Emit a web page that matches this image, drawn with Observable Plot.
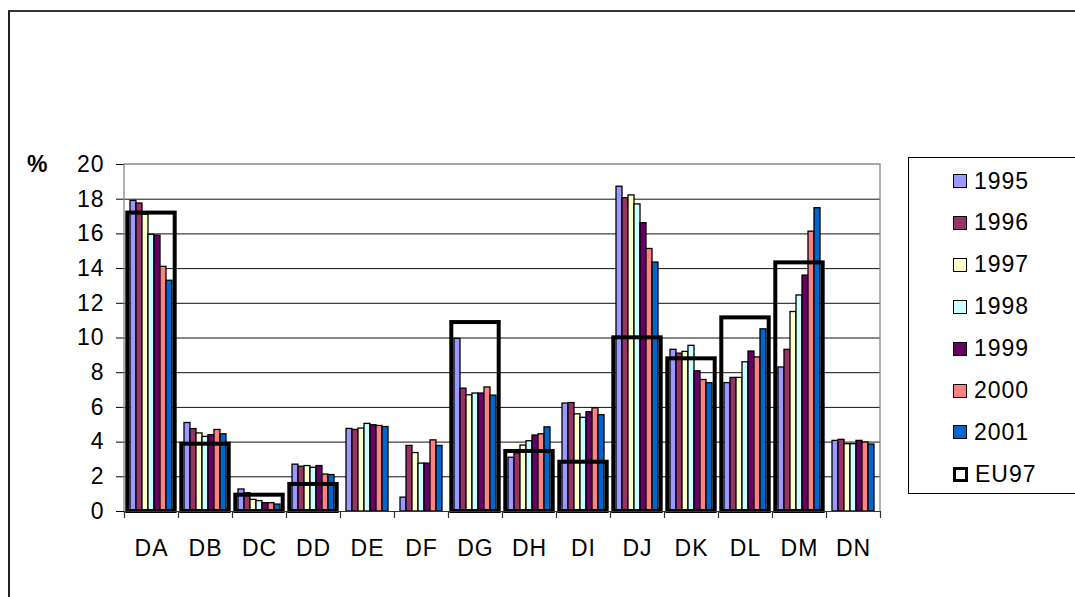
<!DOCTYPE html>
<html>
<head>
<meta charset="utf-8">
<script src="https://cdn.jsdelivr.net/npm/d3@7"></script>
<script src="https://cdn.jsdelivr.net/npm/@observablehq/plot@0.6"></script>
<style>
html,body{margin:0;padding:0;background:#fff;overflow:hidden}
body{width:1075px;height:597px;position:relative;font-family:Arial,"Liberation Sans",sans-serif}
#frame{position:absolute;left:8px;top:10px;width:1100px;height:620px;border-left:2px solid #222;border-top:2px solid #333;box-sizing:border-box}
#chart{position:absolute;left:0;top:0}
#pct{position:absolute;left:27px;top:150px;font-weight:bold;font-size:23px;line-height:28px}
#legend{position:absolute;left:908px;top:157px;width:170px;height:337px;border:1px solid #000;box-sizing:border-box;background:#fff}
.item{position:absolute;left:44px;height:24px;display:flex;align-items:center;font-size:23px;letter-spacing:1px}
.sw{width:12px;height:12px;border:1.5px solid #000;margin-right:7px;flex:none}
.sw.eu{width:9px;height:9px;border:3.5px solid #000;background:#fff}
</style>
</head>
<body>
<div id="frame"></div>
<div id="chart"></div>
<div id="pct">%</div>
<div id="legend"></div>
<script>
const cats = ["DA","DB","DC","DD","DE","DF","DG","DH","DI","DJ","DK","DL","DM","DN"];
const years = ["1995","1996","1997","1998","1999","2000","2001"];
const yearColors = ["#9999FF","#993366","#FFFFCC","#CCFFFF","#660066","#FF8080","#0066CC"];
const yTicks = [0,2,4,6,8,10,12,14,16,18,20];

const v1995 = [17.9, 5.1, 1.27, 2.70, 4.76, 0.80, 9.95, 3.10, 6.22, 18.72, 9.32, 7.40, 8.30, 4.07];
const v1996 = [17.75, 4.75, 1.05, 2.58, 4.70, 3.78, 7.08, 3.35, 6.25, 18.06, 9.10, 7.70, 9.32, 4.13];
const v1997 = [17.1, 4.50, 0.67, 2.62, 4.78, 3.37, 6.70, 3.80, 5.60, 18.22, 9.20, 7.70, 11.50, 3.88];
const v1998 = [15.95, 4.30, 0.60, 2.52, 5.05, 2.76, 6.80, 4.05, 5.40, 17.70, 9.55, 8.60, 12.45, 3.88];
const v1999 = [15.9, 4.40, 0.48, 2.62, 4.97, 2.76, 6.80, 4.38, 5.72, 16.62, 8.08, 9.22, 13.60, 4.07];
const v2000 = [14.1, 4.70, 0.48, 2.13, 4.93, 4.10, 7.15, 4.45, 5.95, 15.13, 7.58, 8.88, 16.13, 3.98];
const v2001 = [13.3, 4.45, 0.40, 2.10, 4.87, 3.78, 6.68, 4.85, 5.55, 14.35, 7.40, 10.50, 17.48, 3.86];
const eu97  = [17.2, 3.88, 0.94, 1.56, null, null, 10.89, 3.46, 2.84, 10.01, 8.80, 11.16, 14.33, null];

const series = [v1995, v1996, v1997, v1998, v1999, v2000, v2001];
const rows = [];
cats.forEach((c, i) => years.forEach((yr, j) => rows.push({cat: c, year: yr, value: series[j][i]})));
const euRows = cats.map((c, i) => ({cat: c, value: eu97[i]})).filter(d => d.value != null);

const chart = Plot.plot({
  width: 1075,
  height: 597,
  marginLeft: 123,
  marginRight: 195,
  marginTop: 164,
  marginBottom: 86,
  style: {fontFamily: "Arial, 'Liberation Sans', sans-serif", fontSize: "23px", color: "#000", background: "transparent", letterSpacing: "1px"},
  fx: {domain: cats, padding: 0, axis: "bottom", tickSize: 0, tickPadding: 28, label: null},
  x: {domain: years, paddingInner: 0, paddingOuter: 0.615, axis: null},
  y: {domain: [0, 20], ticks: yTicks, tickSize: 8, tickPadding: 12, label: null, tickFormat: d => String(d)},
  color: {domain: years, range: yearColors},
  marks: [
    Plot.ruleY(yTicks.filter(d => d > 0 && d < 20), {stroke: "#111", strokeWidth: 1}),
    Plot.barY(rows, {fx: "cat", x: "year", y: "value", fill: "year", stroke: "#000", strokeWidth: 1.3}),
    Plot.barY(euRows, {fx: "cat", y: "value", fill: "none", stroke: "#000", strokeWidth: 4, insetLeft: 3.3, insetRight: 3.3}),
    Plot.ruleY([0], {stroke: "#333", strokeWidth: 1.2})
  ]
});
document.getElementById("chart").appendChild(chart);

// plot-area border and category tick marks, positioned through Plot's own scales
const fx = chart.scale("fx"), ys = chart.scale("y");
const xl = fx.apply(cats[0]), xr = fx.apply(cats[cats.length - 1]) + fx.bandwidth;
const y0 = ys.apply(0), y20 = ys.apply(20);
const svg = d3.select(chart);
const g = svg.append("g").attr("fill", "none");
g.append("path").attr("d", `M${xl},${y0}V${y20}H${xr}V${y0}`).attr("stroke", "#888").attr("stroke-width", 1.3);
const bounds = cats.map(c => fx.apply(c)).concat([xr]);
g.selectAll("line.tk").data(bounds).join("line")
  .attr("x1", d => Math.round(d) + 0.5).attr("x2", d => Math.round(d) + 0.5)
  .attr("y1", y0).attr("y2", y0 + 7).attr("stroke", "#333").attr("stroke-width", 1.2);

// legend
const leg = document.getElementById("legend");
const labels = years.concat(["EU97"]);
labels.forEach((lab, i) => {
  const it = document.createElement("div");
  it.className = "item";
  it.style.top = (11 + i * 41.9) + "px";
  const sw = document.createElement("div");
  sw.className = "sw" + (lab === "EU97" ? " eu" : "");
  if (lab !== "EU97") sw.style.background = yearColors[i];
  it.appendChild(sw);
  it.appendChild(document.createTextNode(lab));
  leg.appendChild(it);
});
</script>
</body>
</html>
